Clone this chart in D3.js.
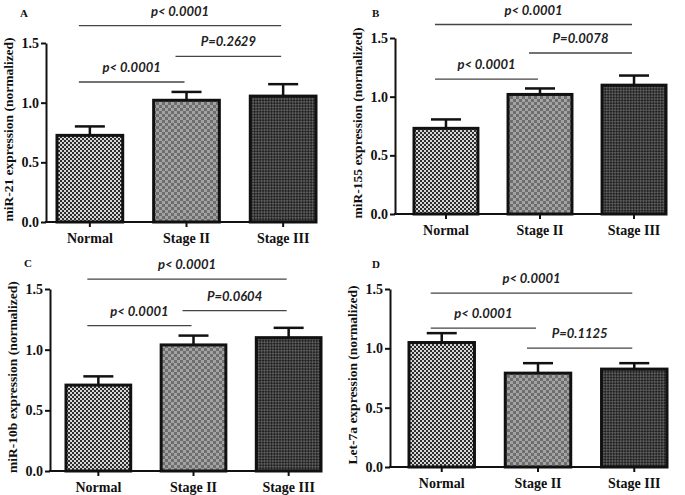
<!DOCTYPE html>
<html>
<head>
<meta charset="utf-8">
<script src="https://cdn.jsdelivr.net/npm/d3@7"></script>
<style>
  body { margin: 0; background: #fff; }
  #chart { width: 685px; height: 495px; }
  .axis text { font-family: "Liberation Serif", "Times New Roman", serif; font-weight: bold; font-size: 14px; fill: #111; }
  .axis path, .axis line { stroke: #111; stroke-width: 2; }
  .ylabel { font-family: "Liberation Serif", "Times New Roman", serif; font-weight: bold; font-size: 13.5px; fill: #111; }
  .letter { font-family: "Liberation Serif", "Times New Roman", serif; font-weight: bold; font-size: 11px; fill: #111; }
  .pval { font-family: Lato, "Noto Sans", sans-serif; font-weight: bold; font-style: italic; font-size: 13px; fill: #222; }
</style>
</head>
<body>
<div id="chart"></div>
<script>
// categories and tick labels
const categories = ["Normal", "Stage II", "Stage III"];
const yTicks = [0.0, 0.5, 1.0, 1.5];

// mean expression and error (SEM) per category
const mir21Means = [0.726, 1.020, 1.055];
const mir21Errors = [0.075, 0.070, 0.100];
const mir155Means = [0.730, 1.019, 1.098];
const mir155Errors = [0.076, 0.051, 0.082];
const mir10bMeans = [0.708, 1.039, 1.099];
const mir10bErrors = [0.072, 0.077, 0.081];
const let7aMeans = [1.049, 0.791, 0.825];
const let7aErrors = [0.079, 0.084, 0.050];

// comparisons: [from, to, bracket level (y units), label]
const mir21Brackets = [[0, 2, 1.645, "p< 0.0001"], [0, 1, 1.173, "p< 0.0001"], [1, 2, 1.388, "P=0.2629"]];
const mir155Brackets = [[0, 2, 1.615, "p< 0.0001"], [0, 1, 1.149, "p< 0.0001"], [1, 2, 1.372, "P=0.0078"]];
const mir10bBrackets = [[0, 2, 1.582, "p< 0.0001"], [0, 1, 1.198, "p< 0.0001"], [1, 2, 1.322, "P=0.0604"]];
const let7aBrackets = [[0, 2, 1.465, "p< 0.0001"], [0, 1, 1.170, "p< 0.0001"], [1, 2, 1.002, "P=0.1125"]];

const width = 685, height = 495;

const svg = d3.select("#chart")
    .append("svg")
    .attr("width", width)
    .attr("height", height);

/*
PATTERNS FOR THE BARS
*/
const defs = svg.append("defs");

const pNormal = defs.append("pattern")
    .attr("id", "pat0").attr("patternUnits", "userSpaceOnUse")
    .attr("width", 4).attr("height", 4);
pNormal.append("rect").attr("width", 4).attr("height", 4).attr("fill", "#d6d6d6");
pNormal.append("rect").attr("width", 2).attr("height", 2).attr("fill", "#2e2e2e");
pNormal.append("rect").attr("x", 2).attr("y", 2).attr("width", 2).attr("height", 2).attr("fill", "#2e2e2e");

const pStage2 = defs.append("pattern")
    .attr("id", "pat1").attr("patternUnits", "userSpaceOnUse")
    .attr("width", 6).attr("height", 6);
pStage2.append("rect").attr("width", 6).attr("height", 6).attr("fill", "#a2a2a2");
pStage2.append("rect").attr("width", 3).attr("height", 3).attr("fill", "#6e6e6e");
pStage2.append("rect").attr("x", 3).attr("y", 3).attr("width", 3).attr("height", 3).attr("fill", "#6e6e6e");

const pStage3 = defs.append("pattern")
    .attr("id", "pat2").attr("patternUnits", "userSpaceOnUse")
    .attr("width", 4).attr("height", 4)
    .attr("patternTransform", "rotate(45)");
pStage3.append("rect").attr("width", 4).attr("height", 4).attr("fill", "#5c5c5c");
pStage3.append("rect").attr("width", 2).attr("height", 2).attr("fill", "#222");
pStage3.append("rect").attr("x", 2).attr("y", 2).attr("width", 2).attr("height", 2).attr("fill", "#222");

/*
PANELS
*/
const panels = [
    {letter: "A", lx: 20, ly: 17, axisX: 46, axisEnd: 317, barStart: 57, yBottom: 222, yTop: 43,
     label: "miR-21 expression (normalized)", means: mir21Means, errors: mir21Errors, brackets: mir21Brackets},
    {letter: "B", lx: 372, ly: 17, axisX: 395, axisEnd: 667, barStart: 414, yBottom: 214, yTop: 38,
     label: "miR-155 expression (normalized)", means: mir155Means, errors: mir155Errors, brackets: mir155Brackets},
    {letter: "C", lx: 24, ly: 267, axisX: 50, axisEnd: 322, barStart: 66, yBottom: 471, yTop: 289,
     label: "miR-10b expression (normalized)", means: mir10bMeans, errors: mir10bErrors, brackets: mir10bBrackets},
    {letter: "D", lx: 372, ly: 268, axisX: 390, axisEnd: 668, barStart: 409, yBottom: 467, yTop: 289,
     label: "Let-7a expression (normalized)", means: let7aMeans, errors: let7aErrors, brackets: let7aBrackets}
];

panels.forEach(function(p) {
    const g = svg.append("g");

    const xScale = d3.scaleBand()
        .domain(categories)
        .range([p.barStart, p.axisEnd - 1])
        .paddingInner(0.32)
        .paddingOuter(0);

    const yScale = d3.scaleLinear()
        .domain([0, 1.5])
        .range([p.yBottom, p.yTop]);

    // panel letter
    g.append("text")
        .attr("class", "letter")
        .attr("x", p.lx)
        .attr("y", p.ly)
        .text(p.letter);

    // y axis
    g.append("g")
        .attr("class", "axis")
        .attr("transform", `translate(${p.axisX},0)`)
        .call(d3.axisLeft(yScale).tickValues(yTicks).tickFormat(d3.format(".1f"))
            .tickSize(5).tickSizeOuter(0).tickPadding(2));

    // x axis
    const xAxis = g.append("g")
        .attr("class", "axis")
        .attr("transform", `translate(0,${p.yBottom})`)
        .call(d3.axisBottom(xScale).tickSize(5).tickSizeOuter(0).tickPadding(6));
    xAxis.select(".domain").remove();
    xAxis.append("line")
        .attr("x1", p.axisX - 1).attr("x2", p.axisEnd)
        .attr("stroke", "#111").attr("stroke-width", 2);

    // y label
    g.append("text")
        .attr("class", "ylabel")
        .attr("transform", "rotate(-90)")
        .attr("x", -(p.yBottom + p.yTop) / 2 + 3)
        .attr("y", p.axisX - 33)
        .attr("text-anchor", "middle")
        .text(p.label);

    // error bars (drawn under the bars)
    categories.forEach(function(c, i) {
        const cx = xScale(c) + xScale.bandwidth() / 2;
        const top = yScale(p.means[i] + p.errors[i]);
        g.append("line")
            .attr("x1", cx).attr("x2", cx)
            .attr("y1", yScale(p.means[i])).attr("y2", top)
            .attr("stroke", "#111").attr("stroke-width", 2.5);
        g.append("line")
            .attr("x1", cx - 15).attr("x2", cx + 15)
            .attr("y1", top).attr("y2", top)
            .attr("stroke", "#111").attr("stroke-width", 2.5);
    });

    // bars
    g.selectAll("rect.bar")
        .data(p.means)
        .enter()
        .append("rect")
            .attr("class", "bar")
            .attr("x", function(d, i) { return xScale(categories[i]); })
            .attr("y", function(d) { return yScale(d); })
            .attr("width", xScale.bandwidth())
            .attr("height", function(d) { return p.yBottom - yScale(d); })
            .attr("fill", function(d, i) { return `url(#pat${i})`; })
            .attr("stroke", "#111")
            .attr("stroke-width", 3);

    // significance brackets
    p.brackets.forEach(function(b) {
        const x1 = xScale(categories[b[0]]) + xScale.bandwidth() / 2 - 11;
        const x2 = xScale(categories[b[1]]) + xScale.bandwidth() / 2 - 2;
        const yy = yScale(b[2]);
        g.append("line")
            .attr("x1", x1).attr("x2", x2)
            .attr("y1", yy).attr("y2", yy)
            .attr("stroke", "#444").attr("stroke-width", 1.3);
        g.append("text")
            .attr("class", "pval")
            .attr("x", (x1 + x2) / 2)
            .attr("y", yy - 10)
            .attr("text-anchor", "middle")
            .text(b[3]);
    });
});
</script>
</body>
</html>
